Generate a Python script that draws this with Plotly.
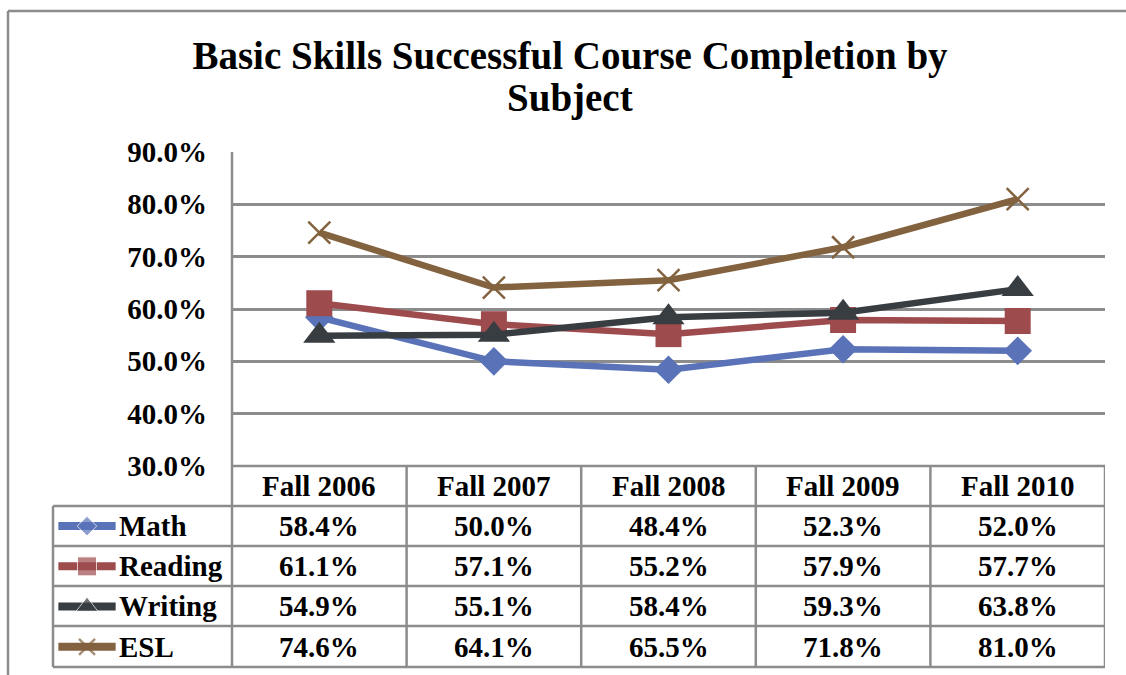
import plotly.graph_objects as go

# ---- data ----
terms = ["Fall 2006", "Fall 2007", "Fall 2008", "Fall 2009", "Fall 2010"]
subjects = ["Math", "Reading", "Writing", "ESL"]
math = [58.4, 50.0, 48.4, 52.3, 52.0]
reading = [61.1, 57.1, 55.2, 57.9, 57.7]
writing = [54.9, 55.1, 58.4, 59.3, 63.8]
esl = [74.6, 64.1, 65.5, 71.8, 81.0]
y_ticks = [30, 40, 50, 60, 70, 80, 90]
title_lines = ["Basic Skills Successful Course Completion by", "Subject"]

series = [math, reading, writing, esl]
colors = ["#5A73B8", "#9E4B4E", "#373D40", "#83623F"]
symbols = ["diamond", "square", "triangle-up", "x-thin"]
msizes = [22, 26, 28, 22]
lsizes = [15, 19, 19, 16]

W, H = 1126, 675
FONT = "Liberation Serif"
GRID = "#8c8c8c"


def px(x):
    return x / W


def py(y):
    return 1 - y / H


# layout geometry (pixels)
PL, PR = 232, 1105          # plot left / right
PT, PB = 152, 466           # plot top / bottom (90% / 30%)
TL = 53                     # table left
row_edges = [466, 506, 546, 586, 626, 667]

fig = go.Figure()

for name, vals, c, s, ms in zip(subjects, series, colors, symbols, msizes):
    mk = dict(symbol=s, size=ms, color=c)
    if s == "x-thin":
        mk["line"] = dict(color=c, width=2.5)
    fig.add_trace(go.Scatter(
        x=list(range(len(terms))), y=vals, name=name, mode="lines+markers",
        line=dict(color=c, width=6.5), marker=mk, xaxis="x", yaxis="y",
        showlegend=False, cliponaxis=False))

# legend keys inside the table (second axis system)
for i, (name, c, s, ls) in enumerate(zip(subjects, colors, symbols, lsizes)):
    mk = dict(symbol=s, size=[0, ls, 0], color=c)
    if s == "x-thin":
        mk["line"] = dict(color=c, width=2.5)
    fig.add_trace(go.Scatter(
        x=[0.03, 0.19, 0.35], y=[i, i, i], mode="lines+markers",
        line=dict(color=c, width=8), marker=mk, xaxis="x2", yaxis="y2",
        showlegend=False, hoverinfo="skip", cliponaxis=False))

shapes = []
# outer chart border (left and top)
shapes.append(dict(type="line", xref="paper", yref="paper", x0=px(8), x1=px(8),
                   y0=py(11), y1=py(H + 5), line=dict(color=GRID, width=2.5)))
shapes.append(dict(type="line", xref="paper", yref="paper", x0=px(8), x1=1.01,
                   y0=py(11), y1=py(11), line=dict(color=GRID, width=2.5)))
# vertical axis line down through table
shapes.append(dict(type="line", xref="paper", yref="paper", x0=px(PL), x1=px(PL),
                   y0=py(PT), y1=py(row_edges[-1]), line=dict(color=GRID, width=2.5)))
# table horizontal lines
for k, ye in enumerate(row_edges):
    x0 = PL if k == 0 else TL
    shapes.append(dict(type="line", xref="paper", yref="paper", x0=px(x0), x1=px(PR),
                       y0=py(ye), y1=py(ye), line=dict(color=GRID, width=2.5)))
# table left edge
shapes.append(dict(type="line", xref="paper", yref="paper", x0=px(TL), x1=px(TL),
                   y0=py(row_edges[1]), y1=py(row_edges[-1]), line=dict(color=GRID, width=2.5)))
# column separators
for j in range(1, len(terms) + 1):
    shapes.append(dict(type="line", xref="x", yref="paper", x0=j - 0.5, x1=j - 0.5,
                       y0=py(row_edges[0]), y1=py(row_edges[-1]),
                       line=dict(color=GRID, width=2.5)))

annotations = []
tfont = dict(family=FONT, size=29, color="#000000")
# second title line
annotations.append(dict(x=px(570), y=py(98), xref="paper", yref="paper",
                        text="<b>%s</b>" % title_lines[1], showarrow=False,
                        font=dict(family=FONT, size=39, color="#000000"),
                        xanchor="center", yanchor="middle"))
# header row
for j, t in enumerate(terms):
    annotations.append(dict(x=j, y=py((row_edges[0] + row_edges[1]) / 2), xref="x", yref="paper",
                            text="<b>%s</b>" % t, showarrow=False, font=tfont,
                            xanchor="center", yanchor="middle"))
# value rows
for i, (name, vals) in enumerate(zip(subjects, series)):
    yc = py((row_edges[i + 1] + row_edges[i + 2]) / 2)
    annotations.append(dict(x=px(117), y=yc, xref="paper", yref="paper",
                            text="<b>%s</b>" % name, showarrow=False, font=tfont,
                            xanchor="left", yanchor="middle"))
    for j, v in enumerate(vals):
        annotations.append(dict(x=j, y=yc, xref="x", yref="paper",
                                text="<b>%.1f%%</b>" % v, showarrow=False, font=tfont,
                                xanchor="center", yanchor="middle"))

fig.update_layout(
    width=W, height=H, autosize=False,
    margin=dict(l=0, r=0, t=0, b=0, pad=0, autoexpand=False),
    paper_bgcolor="white", plot_bgcolor="white",
    title=dict(text="<b>%s</b>" % title_lines[0],
               x=px(570), xanchor="center", y=py(55), yanchor="middle",
               automargin=False,
               font=dict(family=FONT, size=39, color="#000000")),
    xaxis=dict(domain=[px(PL), px(PR)], range=[-0.5, len(terms) - 0.5],
               showticklabels=False, showgrid=False, zeroline=False, showline=False,
               fixedrange=True, automargin=False),
    yaxis=dict(domain=[py(PB), py(PT)], range=[30, 90], tickvals=y_ticks,
               ticktext=["<b>%.1f%%</b>" % v for v in y_ticks],
               tickfont=dict(family=FONT, size=29, color="#000000"),
               showgrid=True, gridcolor=GRID, gridwidth=2.5, zeroline=False,
               showline=False, ticks="", ticklabelstandoff=24, fixedrange=True,
               automargin=False),
    xaxis2=dict(domain=[px(TL), px(PL)], range=[0, 1], visible=False, fixedrange=True,
                automargin=False),
    yaxis2=dict(domain=[py(row_edges[-1]), py(row_edges[1])], range=[3.5, -0.5],
                visible=False, fixedrange=True, anchor="x2", automargin=False),
    shapes=shapes, annotations=annotations,
    showlegend=False,
)

fig.write_html("out.html", config={"responsive": False, "displayModeBar": False},
               post_script="document.body.style.margin='0';document.body.style.overflow='hidden';")
